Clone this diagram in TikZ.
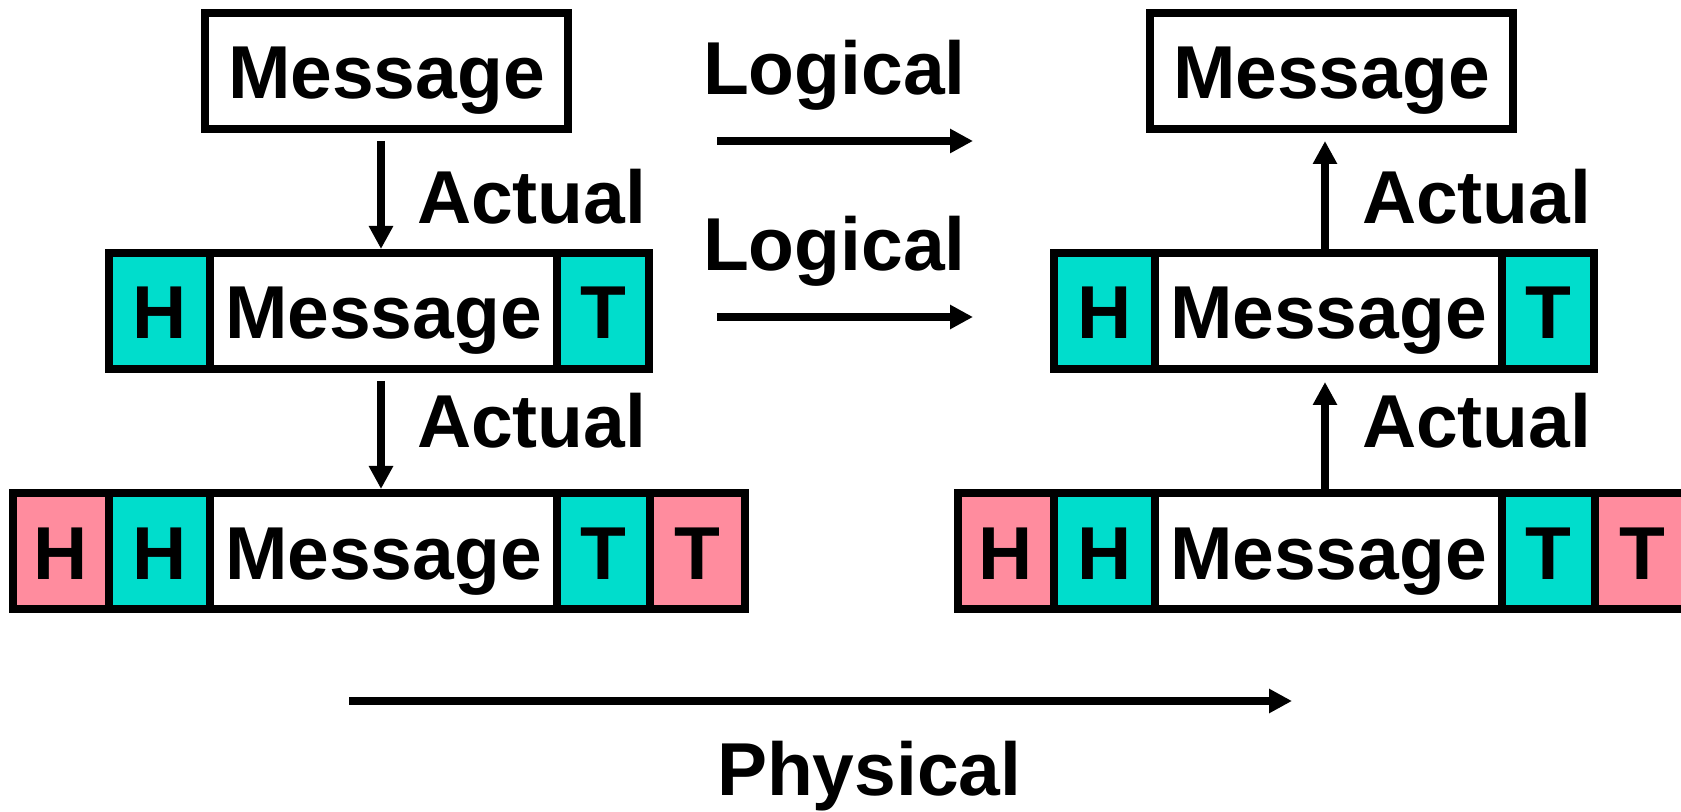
\documentclass[tikz,border=0pt]{standalone}
\usepackage{fontspec}
\setmainfont{Liberation Sans}
\usetikzlibrary{arrows.meta,calc}
\definecolor{cyanc}{RGB}{0,221,204}
\definecolor{pinkc}{RGB}{255,140,158}
\begin{document}
\begin{tikzpicture}[x=0.5pt,y=-0.5pt,
  font=\fontsize{37.5pt}{41pt}\selectfont\bfseries,
  cell/.style={draw, line width=4pt, minimum height=58pt, inner sep=0pt,
    outer sep=0pt, text height=28pt, text depth=0pt, anchor=west},
  hcell/.style={cell, fill=cyanc, minimum width=50.5pt},
  tcell/.style={cell, fill=cyanc, minimum width=46pt},
  phcell/.style={cell, fill=pinkc, minimum width=48pt},
  ptcell/.style={cell, fill=pinkc, minimum width=47.5pt},
  mcell/.style={cell, fill=white, minimum width=173.5pt},
  topbox/.style={draw, line width=4pt, minimum height=58pt, minimum width=181.5pt,
    inner sep=0pt, outer sep=0pt, text height=28pt, text depth=0pt},
  lbl/.style={anchor=base west, inner sep=0pt, outer sep=0pt},
  arr/.style={line width=4pt, -{Triangle[length=11.5pt,width=11.5pt]}}
]
\useasboundingbox (0,0) rectangle (1681,812);
\fill[white] (0,0) rectangle (1681,812);
\clip (0,0) rectangle (1681,812);

% ---- left stack ----
\node[topbox] (tl) at (386.5,71) {Message};

\node[hcell] (lm1) at (109,311) {H};
\node[mcell] (lm2) at (210,311) {Message};
\node[tcell] (lm3) at (557,311) {T};

\node[phcell] (lb1) at (13,551) {H};
\node[hcell]  (lb2) at (109,551) {H};
\node[mcell]  (lb3) at (210,551) {Message};
\node[cell, fill=cyanc, minimum width=46.5pt] (lb4) at (557,551) {T};
\node[ptcell] (lb5) at (650,551) {T};

% ---- right stack ----
\node[topbox] (tr) at (1331.5,71) {Message};

\node[hcell] (rm1) at (1054,311) {H};
\node[mcell] (rm2) at (1155,311) {Message};
\node[tcell] (rm3) at (1502,311) {T};

\node[phcell] (rb1) at (958,551) {H};
\node[hcell]  (rb2) at (1054,551) {H};
\node[mcell]  (rb3) at (1155,551) {Message};
\node[cell, fill=cyanc, minimum width=46.5pt] (rb4) at (1502,551) {T};
\node[ptcell] (rb5) at (1595,551) {T};

% ---- vertical arrows ----
\draw[arr] ($(tl.south)+(-5.5,12)$) -- ($(tl.south |- lm2.north)+(-5.5,-4)$);
\draw[arr] ($(tl.south |- lm2.south)+(-5.5,12)$) -- ($(tl.south |- lb3.north)+(-5.5,-4)$);
\draw[arr] ($(tr.south |- rm2.north)+(-6.5,0)$) -- ($(tr.south)+(-6.5,12)$);
\draw[arr] ($(tr.south |- rb3.north)+(-6.5,0)$) -- ($(tr.south |- rm2.south)+(-6.5,13)$);

% ---- labels ----
\node[lbl] (al1) at (417,224) {Actual};
\node[lbl] (al2) at (417,448) {Actual};
\node[lbl] (ar1) at (1362,224) {Actual};
\node[lbl] (ar2) at (1362,448) {Actual};
\node[lbl] (lg1) at (703,95) {Logical};
\node[lbl] (lg2) at (703,271) {Logical};
\node[lbl] (ph) at (717,795) {Physical};

% ---- horizontal arrows ----
\coordinate (la1s) at (717,141);
\coordinate (la1e) at (973,141);
\coordinate (la2s) at (717,317);
\coordinate (la2e) at (973,317);
\coordinate (pas) at (349,701);
\coordinate (pae) at (1292,701);
\draw[arr] (la1s) -- (la1e);
\draw[arr] (la2s) -- (la2e);
\draw[arr] (pas) -- (pae);
\end{tikzpicture}
\end{document}
